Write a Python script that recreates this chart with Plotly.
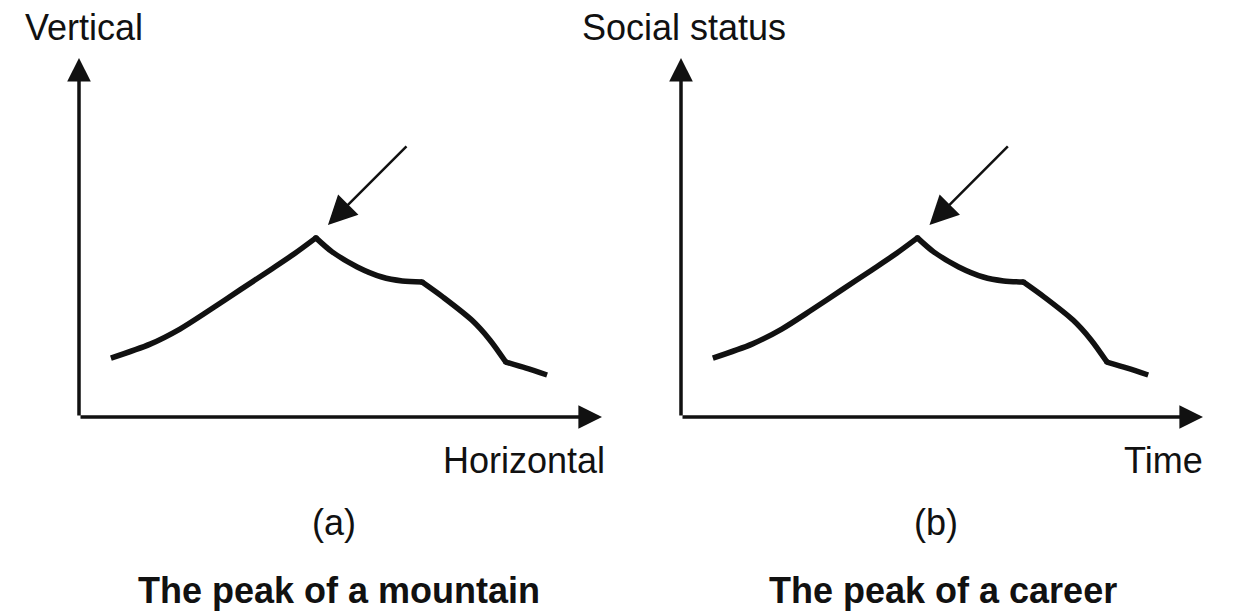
import plotly.graph_objects as go

# ---- data (same schematic curve in both panels; axis units 0..100) ----
curve_x = [6.1, 13.6, 19.3, 25.0, 30.8, 36.5, 41.1, 45.3, 48.4, 53.2, 57.9, 61.8, 65.6, 69.6, 75.1, 78.6, 81.6, 85.5, 89.5]
curve_y = [16.4, 20.3, 24.5, 29.8, 35.4, 40.9, 45.4, 49.9, 46.0, 41.8, 39.0, 37.9, 37.6, 33.4, 27.0, 21.4, 15.3, 13.6, 11.7]
corner_idx = [7, 12, 16]          # sharp corners: peak, end of plateau, knee
pointer_tail = [62.9, 75.8]
pointer_tip = [47.6, 53.5]
axis_max = 100

panel_ids = ["(a)", "(b)"]
y_labels = ["Vertical", "Social status"]
x_labels = ["Horizontal", "Time"]
titles = ["The peak of a mountain", "The peak of a career"]

W, H = 1233, 611
FONT = "Liberation Sans, Arial, Helvetica, sans-serif"
INK = "#111111"
LW = 5.5

def px(x):
    return x / W

def py(y):
    return 1 - y / H

x_domains = [[px(79), px(602)], [px(681), px(1203)]]
y_domain = [py(417), py(58)]

fig = go.Figure()
annotations = []

bounds = [0] + corner_idx + [len(curve_x) - 1]
for i in range(2):
    xa = "x" if i == 0 else "x2"
    ya = "y" if i == 0 else "y2"
    for a, b in zip(bounds[:-1], bounds[1:]):
        fig.add_trace(go.Scatter(
            x=curve_x[a:b + 1], y=curve_y[a:b + 1], mode="lines", xaxis=xa, yaxis=ya,
            line=dict(color=INK, width=LW, shape="spline", smoothing=0.8),
            hoverinfo="skip", showlegend=False, cliponaxis=False,
        ))
    # fill the joints between the smooth pieces
    fig.add_trace(go.Scatter(
        x=[curve_x[k] for k in corner_idx], y=[curve_y[k] for k in corner_idx],
        mode="markers", xaxis=xa, yaxis=ya,
        marker=dict(color=INK, size=LW, line=dict(width=0)),
        hoverinfo="skip", showlegend=False, cliponaxis=False,
    ))
    for (hx, hy) in [(axis_max, 0), (0, axis_max)]:
        annotations.append(dict(x=hx, y=hy, ax=0, ay=0, xref=xa, yref=ya, axref=xa, ayref=ya,
                                text="", showarrow=True, arrowhead=2, arrowsize=1.35, arrowwidth=3.5,
                                arrowcolor=INK, standoff=0))
    annotations.append(dict(x=pointer_tip[0], y=pointer_tip[1], ax=pointer_tail[0], ay=pointer_tail[1],
                            xref=xa, yref=ya, axref=xa, ayref=ya,
                            text="", showarrow=True, arrowhead=2, arrowsize=2.3, arrowwidth=2.5,
                            arrowcolor=INK, standoff=0))

offset = 602
txt = dict(family=FONT, size=36, color=INK)
annotations += [
    dict(x=px(23), y=py(27), xref="paper", yref="paper", text=y_labels[0], showarrow=False,
         xanchor="left", yanchor="middle", font=txt),
    dict(x=px(580), y=py(27), xref="paper", yref="paper", text=y_labels[1], showarrow=False,
         xanchor="left", yanchor="middle", font=txt),
    dict(x=px(607), y=py(460), xref="paper", yref="paper", text=x_labels[0], showarrow=False,
         xanchor="right", yanchor="middle", font=txt),
    dict(x=px(1205), y=py(460), xref="paper", yref="paper", text=x_labels[1], showarrow=False,
         xanchor="right", yanchor="middle", font=txt),
    dict(x=px(334), y=py(522), xref="paper", yref="paper", text=panel_ids[0], showarrow=False,
         xanchor="center", yanchor="middle", font=txt),
    dict(x=px(334 + offset), y=py(522), xref="paper", yref="paper", text=panel_ids[1], showarrow=False,
         xanchor="center", yanchor="middle", font=txt),
    dict(x=px(339), y=py(590), xref="paper", yref="paper", text="<b>" + titles[0] + "</b>", showarrow=False,
         xanchor="center", yanchor="middle", font=txt),
    dict(x=px(943), y=py(590), xref="paper", yref="paper", text="<b>" + titles[1] + "</b>", showarrow=False,
         xanchor="center", yanchor="middle", font=txt),
]

axis_common = dict(visible=False, range=[0, axis_max], fixedrange=True)
fig.update_layout(
    width=W, height=H,
    margin=dict(l=0, r=0, t=0, b=0),
    paper_bgcolor="white", plot_bgcolor="white",
    xaxis=dict(domain=x_domains[0], anchor="y", **axis_common),
    yaxis=dict(domain=y_domain, anchor="x", **axis_common),
    xaxis2=dict(domain=x_domains[1], anchor="y2", **axis_common),
    yaxis2=dict(domain=y_domain, anchor="x2", **axis_common),
    annotations=annotations,
    showlegend=False,
)

fig.write_html("out.html", config={"displayModeBar": False},
               post_script="document.body.style.margin='0';document.body.style.overflow='hidden';")
